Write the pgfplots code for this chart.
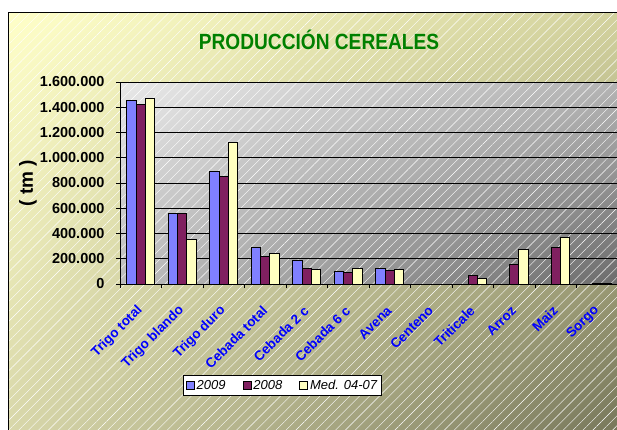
\documentclass[border=0pt]{standalone}
\usepackage{pgfplots}
\pgfplotsset{compat=1.18}
\usepackage{graphicx}
\usepackage{fontspec}
\setmainfont{Liberation Sans}
\usetikzlibrary{patterns.meta,shadings}
\definecolor{c2009}{HTML}{8080FF}
\definecolor{c2008}{HTML}{802060}
\definecolor{cmed}{HTML}{FFFFC0}
\definecolor{titlegreen}{HTML}{008000}
\definecolor{bgUL}{HTML}{FFFFC8}
\definecolor{bgUR}{HTML}{D3D29E}
\definecolor{bgLL}{HTML}{D8D7AA}
\definecolor{bgLR}{HTML}{76765A}
\definecolor{plUL}{HTML}{E8E8E8}
\definecolor{plUR}{HTML}{B4B4B4}
\definecolor{plLL}{HTML}{BCBCBC}
\definecolor{plLR}{HTML}{6C6C6C}
\pgfplotsset{ybar legend/.style={legend image code/.code={\draw[#1, line width=0.8pt, draw=black] (0pt,-4pt) rectangle (8pt,4pt);}}}
\begin{document}
\begin{tikzpicture}
\useasboundingbox (0pt,0pt) rectangle (617pt,429pt);
\clip (0pt,0pt) rectangle (617pt,429pt);
\fill[white] (0pt,0pt) rectangle (617pt,429pt);
\shade[upper left=bgUL, upper right=bgUR, lower left=bgLL, lower right=bgLR] (8pt,-5pt) rectangle (625pt,416pt);
\fill[pattern={Lines[angle=45,distance=7pt,line width=0.4pt]}, pattern color=white, fill opacity=0.16] (8pt,-5pt) rectangle (625pt,416pt);
\draw[black, line width=1pt] (8pt,-5pt) rectangle (625pt,416pt);
\node[font=\fontsize{22}{24}\selectfont\bfseries, text=titlegreen] at (319pt,389pt) {\scalebox{0.87}[1]{PRODUCCIÓN CEREALES}};
\begin{axis}[
  at={(120pt,145pt)}, anchor=south west,
  scale only axis, width=498pt, height=202pt,
  xmin=-0.5, xmax=11.5, ymin=0, ymax=1600000,
  ybar=0pt, bar width=9.3pt,
  legend image code/.code={\draw[#1, line width=0.8pt, draw=black] (0pt,-4pt) rectangle (8pt,4pt);},
  axis background/.style={shade, upper left=plUL, upper right=plUR, lower left=plLL, lower right=plLR, draw=gray, line width=1pt,
     postaction={pattern={Lines[angle=45,distance=7pt,line width=0.4pt]}, pattern color=white, fill opacity=0.1}},
  axis x line*=bottom, axis y line*=left,
  axis line style={black, line width=1pt},
  ytick={0,200000,...,1600000},
  ymajorgrids, grid style={black, line width=0.8pt},
  scaled y ticks=false,
  /pgf/number format/fixed, /pgf/number format/precision=0, /pgf/number format/1000 sep={.}, /pgf/number format/assume math mode=true,
  ticklabel style={font=\fontsize{14.5}{16}\selectfont\bfseries},
  tick align=outside, major tick length=4pt, minor tick length=4pt,
  tick style={black, line width=0.8pt},
  xtick={0,...,11},
  xticklabels={Trigo total,Trigo blando,Trigo duro,Cebada total,Cebada 2 c,Cebada 6 c,Avena,Centeno,Triticale,Arroz,Maiz,Sorgo},
  major x tick style={draw=none},
  minor xtick={-0.5,0.5,...,11.5},
  xticklabel style={font=\fontsize{13.5}{15}\selectfont\bfseries, text=blue, yshift=-18pt, xshift=2pt, rotate=45, anchor=east},
  yticklabel style={xshift=-8pt},
  ylabel={( tm )},
  ylabel style={font=\fontsize{19}{21}\selectfont\bfseries, at={(axis description cs:-0.185,0.5)}, anchor=center},
  legend style={at={(axis description cs:0.1265,-0.4505)}, anchor=north west, draw=black, fill=white, line width=0.8pt,
     font=\fontsize{13}{15}\selectfont\itshape, inner sep=2.5pt,
     /tikz/every even column/.append style={column sep=15pt}},
  legend columns=3,
  every axis plot/.append style={draw=black, line width=1pt},
]
\addplot[fill=c2009] coordinates {(0,1457000) (1,562000) (2,889000) (3,293000) (4,190000) (5,103000) (6,119000)};
\addplot[fill=c2008] coordinates {(0,1418000) (1,562000) (2,853000) (3,216000) (4,121000) (5,93000) (6,105000) (8,69000) (9,153000) (10,288000) (11,7000)};
\addplot[fill=cmed] coordinates {(0,1468000) (1,351000) (2,1117000) (3,238000) (4,116000) (5,121000) (6,116000) (8,42000) (9,272000) (10,372000) (11,7000)};
\legend{2009,2008,Med. 04-07}
\end{axis}
\end{tikzpicture}
\end{document}
